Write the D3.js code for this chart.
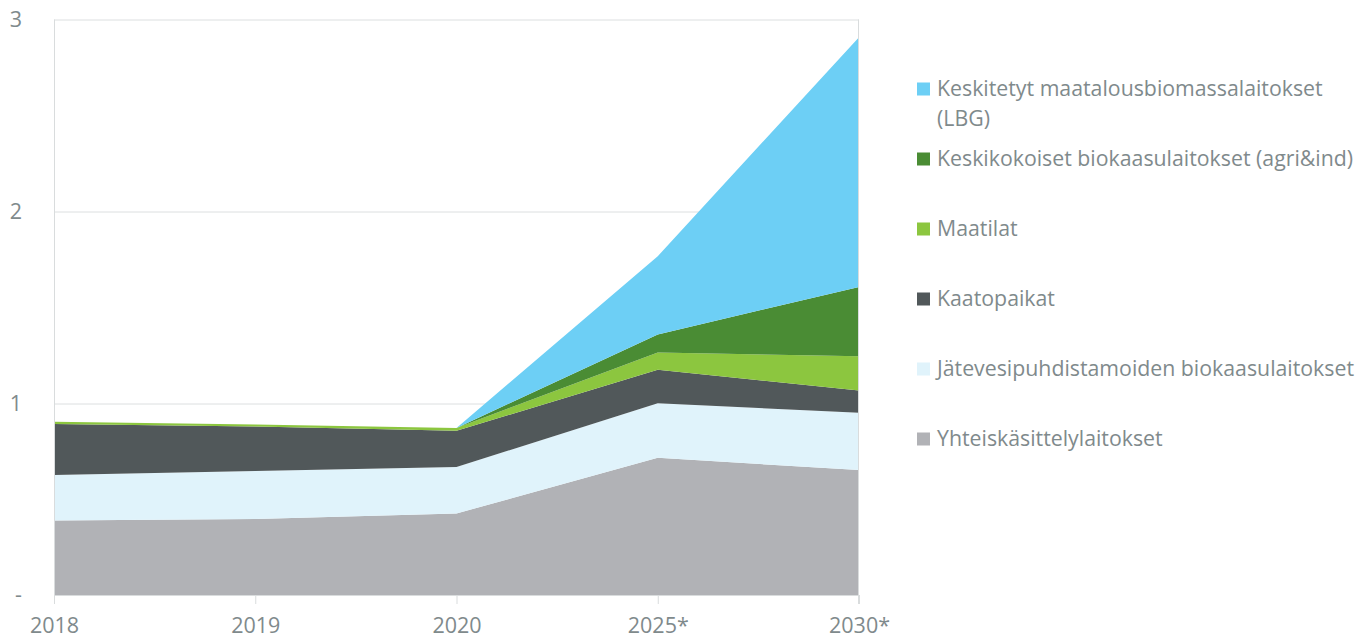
<!DOCTYPE html>
<html>
<head>
<meta charset="utf-8">
<script src="https://cdn.jsdelivr.net/npm/d3@7"></script>
<style>
  body { margin: 0; background: #fff; }
  text { font-family: "Open Sans", "Noto Sans", sans-serif; fill: #7f8a8c; }
  .grid line { stroke: #dcdfe0; }
</style>
</head>
<body>
<div id="wrapper"></div>
<script>
// data
const years = ["2018", "2019", "2020", "2025*", "2030*"]
const yhteiskasittely = [0.389, 0.396, 0.425, 0.715, 0.651]
const jatevesi = [0.236, 0.250, 0.242, 0.285, 0.299]
const kaatopaikat = [0.267, 0.233, 0.189, 0.174, 0.116]
const maatilat = [0.011, 0.010, 0.015, 0.090, 0.179]
const keskikokoiset = [0, 0, 0, 0.094, 0.361]
const keskitetyt = [0, 0, 0, 0.408, 1.302]
const yTicks = [0, 1, 2, 3]

const series = [
  { key: "yht", name: ["Yhteiskäsittelylaitokset"], values: yhteiskasittely, color: "#b1b2b6" },
  { key: "jat", name: ["Jätevesipuhdistamoiden biokaasulaitokset"], values: jatevesi, color: "#e0f3fb" },
  { key: "kaa", name: ["Kaatopaikat"], values: kaatopaikat, color: "#51585a" },
  { key: "maa", name: ["Maatilat"], values: maatilat, color: "#8cc63f" },
  { key: "kes", name: ["Keskikokoiset biokaasulaitokset (agri&ind)"], values: keskikokoiset, color: "#4a8c34" },
  { key: "lbg", name: ["Keskitetyt maatalousbiomassalaitokset", "(LBG)"], values: keskitetyt, color: "#6dcff5" },
]

async function drawChart() {
  const dataset = years.map((y, i) => {
    const row = { year: y }
    series.forEach(s => row[s.key] = s.values[i])
    return row
  })

  // dimensions
  const dimensions = {
    width: 1363,
    height: 638,
    margin: { top: 19.5, left: 54, right: 504, bottom: 43 },
  }
  dimensions.boundedWidth = dimensions.width - dimensions.margin.left - dimensions.margin.right
  dimensions.boundedHeight = dimensions.height - dimensions.margin.top - dimensions.margin.bottom

  const wrapper = d3.select("#wrapper")
    .append("svg")
    .attr("width", dimensions.width)
    .attr("height", dimensions.height)

  const bounds = wrapper.append("g")
    .attr("transform", `translate(${dimensions.margin.left}, ${dimensions.margin.top})`)

  // scales
  const xScale = d3.scalePoint()
    .domain(years)
    .range([0, dimensions.boundedWidth])

  const yScale = d3.scaleLinear()
    .domain([0, 3])
    .range([dimensions.boundedHeight, 0])

  // gridlines
  const grid = bounds.append("g").attr("class", "grid")
  grid.selectAll("line")
    .data(yTicks.filter(d => d > 0))
    .join("line")
    .attr("x1", 0)
    .attr("x2", dimensions.boundedWidth)
    .attr("y1", d => Math.round(yScale(d)) + 0.5)
    .attr("y2", d => Math.round(yScale(d)) + 0.5)

  // stacked areas
  const stack = d3.stack().keys(series.map(s => s.key))
  const stacked = stack(dataset)

  const areaGenerator = d3.area()
    .x(d => xScale(d.data.year))
    .y0(d => yScale(d[0]))
    .y1(d => yScale(d[1]))

  bounds.selectAll(".area")
    .data(stacked)
    .join("path")
    .attr("class", "area")
    .attr("d", areaGenerator)
    .attr("fill", (d, i) => series[i].color)

  // frame + axes
  const frameColor = "#d9dcdd"
  bounds.append("line")
    .attr("x1", 0.5).attr("x2", 0.5)
    .attr("y1", 0).attr("y2", dimensions.boundedHeight + 9)
    .attr("stroke", frameColor)
  bounds.append("line")
    .attr("x1", dimensions.boundedWidth - 0.5).attr("x2", dimensions.boundedWidth - 0.5)
    .attr("y1", 0).attr("y2", dimensions.boundedHeight + 9)
    .attr("stroke", frameColor)
  bounds.append("line")
    .attr("x1", 0).attr("x2", dimensions.boundedWidth)
    .attr("y1", dimensions.boundedHeight + 0.5).attr("y2", dimensions.boundedHeight + 0.5)
    .attr("stroke", frameColor)

  const xAxisGenerator = d3.axisBottom(xScale).tickSize(9).tickPadding(14)
  const xAxis = bounds.append("g")
    .attr("transform", `translate(0, ${dimensions.boundedHeight})`)
    .call(xAxisGenerator)
  xAxis.select(".domain").remove()
  xAxis.selectAll("line").attr("stroke", frameColor)
  xAxis.selectAll("text")
    .attr("fill", "#7f8a8c")
    .style("font-size", "21.5px")
    .style("font-family", "'Open Sans', sans-serif")

  const yAxisGenerator = d3.axisLeft(yScale)
    .tickValues(yTicks)
    .tickSize(0)
    .tickPadding(32)
    .tickFormat(d => d === 0 ? "-" : d)
  const yAxis = bounds.append("g").call(yAxisGenerator)
  yAxis.select(".domain").remove()
  yAxis.selectAll("text")
    .attr("fill", "#7f8a8c")
    .style("font-size", "21.5px")
    .style("font-family", "'Open Sans', sans-serif")

  // legend
  const legendItems = series.slice().reverse()
  const legend = wrapper.append("g")
    .attr("transform", "translate(917, 89)")

  const item = legend.selectAll("g")
    .data(legendItems)
    .join("g")
    .attr("transform", (d, i) => `translate(0, ${i * 70})`)

  item.append("rect")
    .attr("x", 0)
    .attr("y", -6.5)
    .attr("width", 13)
    .attr("height", 13)
    .attr("fill", d => d.color)

  item.append("text")
    .attr("x", 20)
    .attr("y", 0)
    .style("font-size", "21.3px")
    .selectAll("tspan")
    .data(d => d.name)
    .join("tspan")
    .attr("x", 20)
    .attr("dy", (d, i) => i === 0 ? "0.35em" : 30)
    .text(d => d)
}
drawChart()
</script>
</body>
</html>
